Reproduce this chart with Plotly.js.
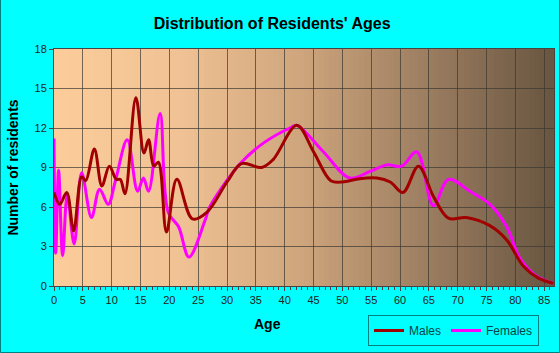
<!DOCTYPE html>
<html>
<head>
<meta charset="utf-8">
<script src="https://cdn.plot.ly/plotly-3.0.1.min.js"></script>
<style>html,body{margin:0;padding:0;background:#00FFFF;}#chart{width:560px;height:353px;}</style>
</head>
<body>
<div id="chart"></div>
<script>
// Data
const maleAges = [0, 1, 2.2, 3.4, 4.8, 5.5, 7, 8.3, 9.6, 10.8, 11.5, 12.3, 14.2, 15.6, 16.4, 17.3, 18.1, 19.5, 21.3, 24, 26.5, 30, 32.5, 36, 38, 42.1, 45, 48, 50, 53, 56, 58.3, 60.5, 63.2, 65.8, 68.4, 71.5, 75.5, 78.5, 81.4, 84, 86.6];
const maleValues = [7.1, 6.2, 7.1, 4.2, 8.3, 8.0, 10.4, 7.6, 9.1, 8.1, 8.1, 7.0, 14.3, 10.1, 11.1, 9.1, 9.4, 4.1, 8.1, 5.1, 5.6, 7.9, 9.3, 9.0, 9.6, 12.2, 10.2, 8.0, 7.9, 8.15, 8.2, 7.9, 7.1, 9.1, 6.8, 5.15, 5.2, 4.6, 3.5, 1.5, 0.6, 0.2];

const femaleAges = [0, 0.3, 0.8, 1.5, 2.3, 3.5, 4.8, 6.5, 7.9, 9.4, 10.6, 12.7, 14.5, 15.5, 16.4, 18.4, 19.8, 21.6, 23.4, 26.2, 27, 32.3, 36.3, 40.9, 42.1, 46.7, 51.3, 54.8, 57.7, 60.3, 62.9, 65.8, 68.4, 72.1, 75.6, 78.5, 80.8, 83.5, 86.6];
const femaleValues = [11.2, 2.5, 8.8, 2.3, 6.9, 3.2, 8.6, 5.2, 7.35, 6.2, 7.9, 11.1, 7.2, 8.2, 7.2, 13.1, 5.6, 4.5, 2.2, 5.0, 6.0, 9.3, 10.85, 12.0, 12.2, 10.2, 8.2, 8.7, 9.2, 9.1, 10.2, 6.1, 8.1, 7.2, 6.2, 4.5, 2.1, 0.8, 0.2];

const yTicks = [0, 3, 6, 9, 12, 15, 18];
const xTicks = [0, 5, 10, 15, 20, 25, 30, 35, 40, 45, 50, 55, 60, 65, 70, 75, 80, 85];

// Background gradient (style only)
const stops = [[0, [252, 205, 154]], [0.25, [240, 194, 148]], [0.5, [205, 164, 124]], [0.75, [155, 125, 96]], [1, [104, 85, 64]]];
function colAt(t) {
  for (let i = 0; i < stops.length - 1; i++) {
    const a = stops[i], b = stops[i + 1];
    if (t >= a[0] && t <= b[0]) {
      const f = (t - a[0]) / (b[0] - a[0]);
      const c = a[1].map((v, k) => Math.round(v + (b[1][k] - v) * f));
      return 'rgb(' + c.join(',') + ')';
    }
  }
  return 'rgb(' + stops[stops.length - 1][1].join(',') + ')';
}
const shapes = [];
const N = 100;
for (let i = 0; i < N; i++) {
  shapes.push({type: 'rect', xref: 'paper', yref: 'paper', x0: i / N, x1: (i + 1) / N + 0.002, y0: 0, y1: 1,
    fillcolor: colAt((i + 0.5) / N), line: {width: 0}, layer: 'below'});
}
// outer frame
shapes.push({type: 'rect', xref: 'paper', yref: 'paper', x0: -53.5 / 500, x1: 505.5 / 500, y0: -66.5 / 237, y1: 303.5 / 237,
  line: {color: '#008080', width: 1}, fillcolor: 'rgba(0,0,0,0)', layer: 'above'});

const traces = [
  {x: maleAges, y: maleValues, name: 'Males', type: 'scatter', mode: 'lines',
   line: {color: '#A00000', width: 3, shape: 'spline', smoothing: 1}},
  {x: femaleAges, y: femaleValues, name: 'Females', type: 'scatter', mode: 'lines',
   line: {color: '#FF00FF', width: 3, shape: 'spline', smoothing: 1}}
];
traces.reverse();

const font = 'Liberation Sans, Arial, sans-serif';
const layout = {
  width: 560, height: 353,
  paper_bgcolor: '#00FFFF', plot_bgcolor: 'rgba(0,0,0,0)',
  margin: {l: 54, r: 6, t: 49, b: 67},
  showlegend: true,
  title: {text: "Distribution of Residents' Ages", font: {family: font, size: 16, color: '#000', weight: 'bold'},
          x: 0.486, xref: 'container', y: 1 - 23 / 353, yref: 'container', yanchor: 'middle', xanchor: 'center'},
  xaxis: {range: [0, 86.7], tickvals: xTicks, ticktext: xTicks.map(String), ticks: 'outside', ticklen: 4, tickcolor: '#444',
          tickfont: {family: font, size: 11, color: '#222'}, showgrid: true, gridcolor: 'rgba(60,55,50,0.7)', gridwidth: 1,
          showline: true, linecolor: '#444', mirror: true, zeroline: false, fixedrange: true,
          minor: {dtick: 1, tick0: 0, ticks: 'outside', ticklen: 3, tickcolor: '#444', showgrid: false}},
  yaxis: {range: [0, 18], tickvals: yTicks, ticktext: yTicks.map(String), ticks: 'outside', ticklen: 4, tickcolor: '#444',
          tickfont: {family: font, size: 11, color: '#222'}, showgrid: true, gridcolor: 'rgba(60,55,50,0.7)', gridwidth: 1,
          showline: true, linecolor: '#444', mirror: true, zeroline: false, fixedrange: true,
          title: {text: 'Number of residents', font: {family: font, size: 14, color: '#000', weight: 'bold'}, standoff: 12}},
  annotations: [{text: 'Age', xref: 'paper', yref: 'paper', x: (267 - 54) / 500, y: (286 - 324) / 237, showarrow: false,
                 xanchor: 'center', yanchor: 'middle', font: {family: font, size: 14, color: '#000', weight: 'bold'}}],
  legend: {orientation: 'h', x: (368 - 54) / 500, y: (286 - 315) / 237, xanchor: 'left', yanchor: 'top',
           bgcolor: '#00FFFF', bordercolor: '#008080', borderwidth: 1, traceorder: 'reversed',
           font: {family: font, size: 12, color: '#004444'}, itemwidth: 30, tracegroupgap: 0},
  shapes: shapes
};
Plotly.newPlot('chart', traces, layout, {staticPlot: true, displayModeBar: false});
</script>
</body>
</html>
